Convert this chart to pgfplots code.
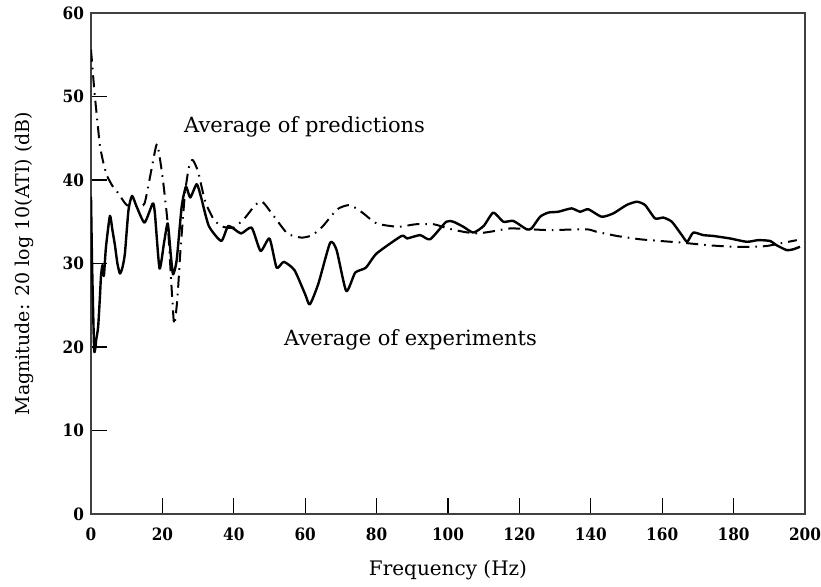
\documentclass[border=0pt]{standalone}
\usepackage{fontspec}
\setmainfont{DejaVu Serif}
\newfontfamily\tickfont{DejaVu Serif Condensed}
\usepackage{pgfplots}
\pgfplotsset{compat=1.18}

% Averaged transfer magnitude: experiments (solid) and predictions (dash-dot)
\pgfplotstableread{
f    mag
0    38
0.3  30
0.9  19.6
1.5  21
2.0  22.4
2.5  26
2.8  28.5
3.2  29.8
3.6  28.5
4.2  32
5.3  35.7
6.0  34
6.7  32.2
7.4  30
8.1  28.8
8.8  29.5
9.5  31.2
10.5 36.4
11.5 38.1
12.8 36.8
15.0 34.9
17.3 37.2
17.9 36
19.2 29.4
20.5 32.6
21.5 34.8
22.4 30.8
23.0 28.7
24.0 30.4
25.4 36.8
26.6 39.2
27.8 37.9
29.6 39.5
30.8 38
33   34.5
36.5 32.7
38.5 34.5
42   33.6
45   34.3
47.5 31.5
50   33
52   29.5
54   30.2
57   29.2
60   26.3
61.3 25.1
63.7 27.6
67   32.5
68.8 31.6
71.5 26.7
74   28.9
77   29.5
80   31.2
87   33.3
88.5 33
92.2 33.4
95   32.9
99.5 35
101.5 35
104.3 34.4
107.1 33.7
110  34.5
112.7 36.1
115.5 35
118.3 35.1
122  34.1
123.4 34.2
125.8 35.6
128.1 36.1
130.9 36.2
134.6 36.6
137  36.2
139.3 36.5
143  35.6
146.3 36
150  37
152.9 37.4
155.2 37
158  35.4
160.3 35.5
162.7 35
165.5 33.4
167  32.6
168.7 33.7
171.5 33.4
174.3 33.3
179  33
183.7 32.6
186.9 32.8
190.2 32.7
192  32.2
194.9 31.6
196.7 31.7
198.6 32
}\experiments

\pgfplotstableread{
f    mag
0    55.6
0.4  53.5
1.0  50.4
1.8  47
2.5  44.1
3.5  42
4.5  40.5
6    39.3
7.5  38.5
10   37
13   36.9
15   37.2
17   41.4
18.5 44.3
20   40.5
21.5 34.7
22.5 27.6
23.3 22.7
24.2 25.8
25   31.2
26.3 38.3
27.5 41.7
28.5 42.4
30   41
32   37.4
34.5 35.2
37   34.4
40   34.3
43   35.4
46   37
48   37.4
51   35.8
55   33.6
59   33.1
62   33.4
65   34.5
69   36.5
72.5 37
76   36.1
80   34.8
86   34.4
91   34.7
96   34.7
100  34.2
104.3 33.8
108  33.6
111.8 33.8
117.4 34.2
123  34.1
128.6 34
138.8 34.1
141.6 33.8
147.3 33.3
153.8 32.9
159.4 32.7
165.5 32.5
172.5 32.2
180  32
185.5 32
189.3 32.1
193  32.4
197.7 32.8
}\predictions

\begin{document}
\begin{tikzpicture}
\useasboundingbox (-45.5pt,-36pt) rectangle (365pt,257pt);
\begin{axis}[
  scale only axis,
  width=357pt, height=250.5pt,
  xmin=0, xmax=200, ymin=0, ymax=60,
  xtick={0,20,...,200}, ytick={0,10,...,60},
  tick align=inside, tick pos=left,
  major tick length=8pt,
  axis line style={black!75, line width=0.8pt},
  every tick/.style={black, line width=0.6pt},
  /pgf/number format/assume math mode=true,
  tick label style={font=\tickfont\bfseries\fontsize{8.5}{10}\selectfont},
  xticklabel style={yshift=-3.5pt},
  xlabel={Frequency (Hz)},
  ylabel={Magnitude: 20 log 10(ATI) (dB)},
  xlabel style={font=\fontsize{10}{12}\selectfont, at={(axis description cs:0.5,-0.113)}, anchor=center},
  ylabel style={font=\fontsize{9.5}{11}\selectfont, at={(axis description cs:-0.093,0.5)}, anchor=center},
  clip=true,
]
\addplot[black, line width=1.2pt, line join=round, smooth, tension=0.35]
  table[x=f, y=mag] {\experiments};
\addplot[black, line width=1pt, line join=round, smooth, tension=0.35,
  dash pattern=on 6pt off 3pt on 0.8pt off 3pt] table[x=f, y=mag] {\predictions};
\node[anchor=west, inner sep=0pt, font=\fontsize{10.5}{12}\selectfont] at (axis cs:26,46.4) {Average of predictions};
\node[anchor=west, inner sep=0pt, font=\fontsize{10.5}{12}\selectfont] at (axis cs:54,20.9) {Average of experiments};
\end{axis}
\end{tikzpicture}
\end{document}
